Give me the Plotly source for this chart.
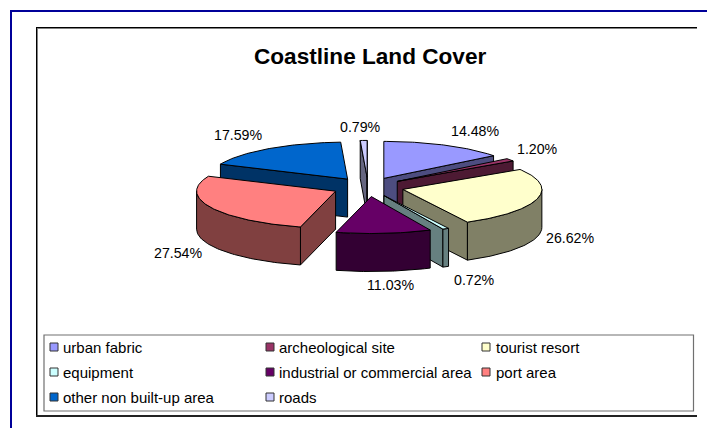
import numpy as np
import plotly.graph_objects as go

# ---- data ----
categories = ["urban fabric", "archeological site", "tourist resort", "equipment",
              "industrial or commercial area", "port area", "other non built-up area", "roads"]
shares = [14.48, 1.20, 26.62, 0.72, 11.03, 27.54, 17.59, 0.79]
pct_labels = ["14.48%", "1.20%", "26.62%", "0.72%", "11.03%", "27.54%", "17.59%", "0.79%"]
top_colors = ["#9999FF", "#993366", "#FFFFCC", "#CCFFFF", "#660066", "#FF8080", "#0066CC", "#CCCCFF"]
side_colors = ["#4D4D80", "#4D1A33", "#808066", "#668080", "#330033", "#804040", "#003366", "#666680"]

# ---- layout constants (pixels of the 707x428 page) ----
W, H = 707, 428
CX, CY, RX, RY, DEPTH, EXPLODE = 368, 187, 139, 37, 38, 36
DRAW_ORDER = [6, 7, 0, 1, 2, 5, 3, 4]
label_xy = [(475, 131), (537, 149), (570, 238), (474, 280), (390, 285), (178, 253), (238, 135), (360, 127)]
legend_cols = [(54, 61), (270, 277), (486, 494)]
legend_rows = [347, 372, 397]
FONT = "Liberation Sans, Arial, sans-serif"

total = sum(shares)
edges = np.concatenate([[0], np.cumsum(shares)]) / total * 2 * np.pi
fig = go.Figure()


def rim(t, cx, cy):
    return cx + RX * np.sin(t), cy - RY * np.cos(t)


def face(xs, ys, color, name):
    fig.add_trace(go.Scatter(x=list(xs), y=list(ys), mode="lines", fill="toself", fillcolor=color,
                             line=dict(color="black", width=1), hoverinfo="skip",
                             showlegend=False, name=name))


for i in DRAW_ORDER:
    a0, a1 = edges[i], edges[i + 1]
    mid = (a0 + a1) / 2
    cx = CX + EXPLODE * np.sin(mid)
    cy = CY - EXPLODE * RY / RX * np.cos(mid)
    name = categories[i]
    # radial cut walls facing the viewer
    for ang, visible in ((a0, np.sin(a0) < 0), (a1, np.sin(a1) > 0)):
        if visible:
            rx, ry = rim(ang, cx, cy)
            face([cx, rx, rx, cx, cx], [cy, ry, ry + DEPTH, cy + DEPTH, cy], side_colors[i], name)
    # front part of the curved wall
    lo, hi = max(a0, np.pi / 2), min(a1, 3 * np.pi / 2)
    if hi > lo:
        t = np.linspace(lo, hi, 60)
        ax, ay = rim(t, cx, cy)
        face(np.r_[ax, ax[::-1], ax[0]], np.r_[ay, ay[::-1] + DEPTH, ay[0]], side_colors[i], name)
    # top face
    t = np.linspace(a0, a1, max(4, int((a1 - a0) * 60)))
    ax, ay = rim(t, cx, cy)
    face(np.r_[cx, ax, cx], np.r_[cy, ay, cy], top_colors[i], name)

annotations = [dict(x=369.5, y=56, text="<b>Coastline Land Cover</b>", showarrow=False,
                    xanchor="center", yanchor="middle",
                    font=dict(family=FONT, size=22.6, color="black"))]
for (x, y), txt in zip(label_xy, pct_labels):
    annotations.append(dict(x=x, y=y, text=txt, showarrow=False, xanchor="center", yanchor="middle",
                            font=dict(family=FONT, size=14.2, color="black")))

shapes = []


def line(x0, y0, x1, y1, color, width):
    shapes.append(dict(type="line", x0=x0, y0=y0, x1=x1, y1=y1, line=dict(color=color, width=width)))


# page and chart frames
line(11, 11, W, 11, "#000099", 2)
line(11, 10, 11, H, "#000099", 2)
line(37, 27.5, 697, 27.5, "black", 1)
line(37, 28.5, 697, 28.5, "#808080", 1)
line(36.5, 27, 36.5, 417, "black", 1)
line(37.5, 28, 37.5, 415, "#808080", 1)
line(36, 416, 697, 416, "#222222", 2)
# legend box
shapes.append(dict(type="rect", x0=44, y0=335, x1=693.5, y1=411, fillcolor="white",
                   line=dict(color="#707070", width=1.2)))
for n, cat in enumerate(categories):
    row, col = n // 3, n % 3
    sx, tx = legend_cols[col]
    sy = legend_rows[row]
    shapes.append(dict(type="rect", x0=sx - 4, y0=sy - 4, x1=sx + 4, y1=sy + 4,
                       fillcolor=top_colors[n], line=dict(color="#333333", width=1)))
    annotations.append(dict(x=tx, y=sy, text=cat, showarrow=False, xanchor="left", yanchor="middle",
                            font=dict(family=FONT, size=15, color="black")))

fig.update_layout(
    width=W, height=H, margin=dict(l=0, r=0, t=0, b=0), autosize=False,
    paper_bgcolor="white", plot_bgcolor="white", showlegend=False,
    xaxis=dict(range=[0, W], visible=False, fixedrange=True),
    yaxis=dict(range=[H, 0], visible=False, fixedrange=True),
    shapes=shapes, annotations=annotations,
)
fig.write_html("out.html", config=dict(displayModeBar=False),
               post_script="document.body.style.margin='0';document.body.style.overflow='hidden';")
